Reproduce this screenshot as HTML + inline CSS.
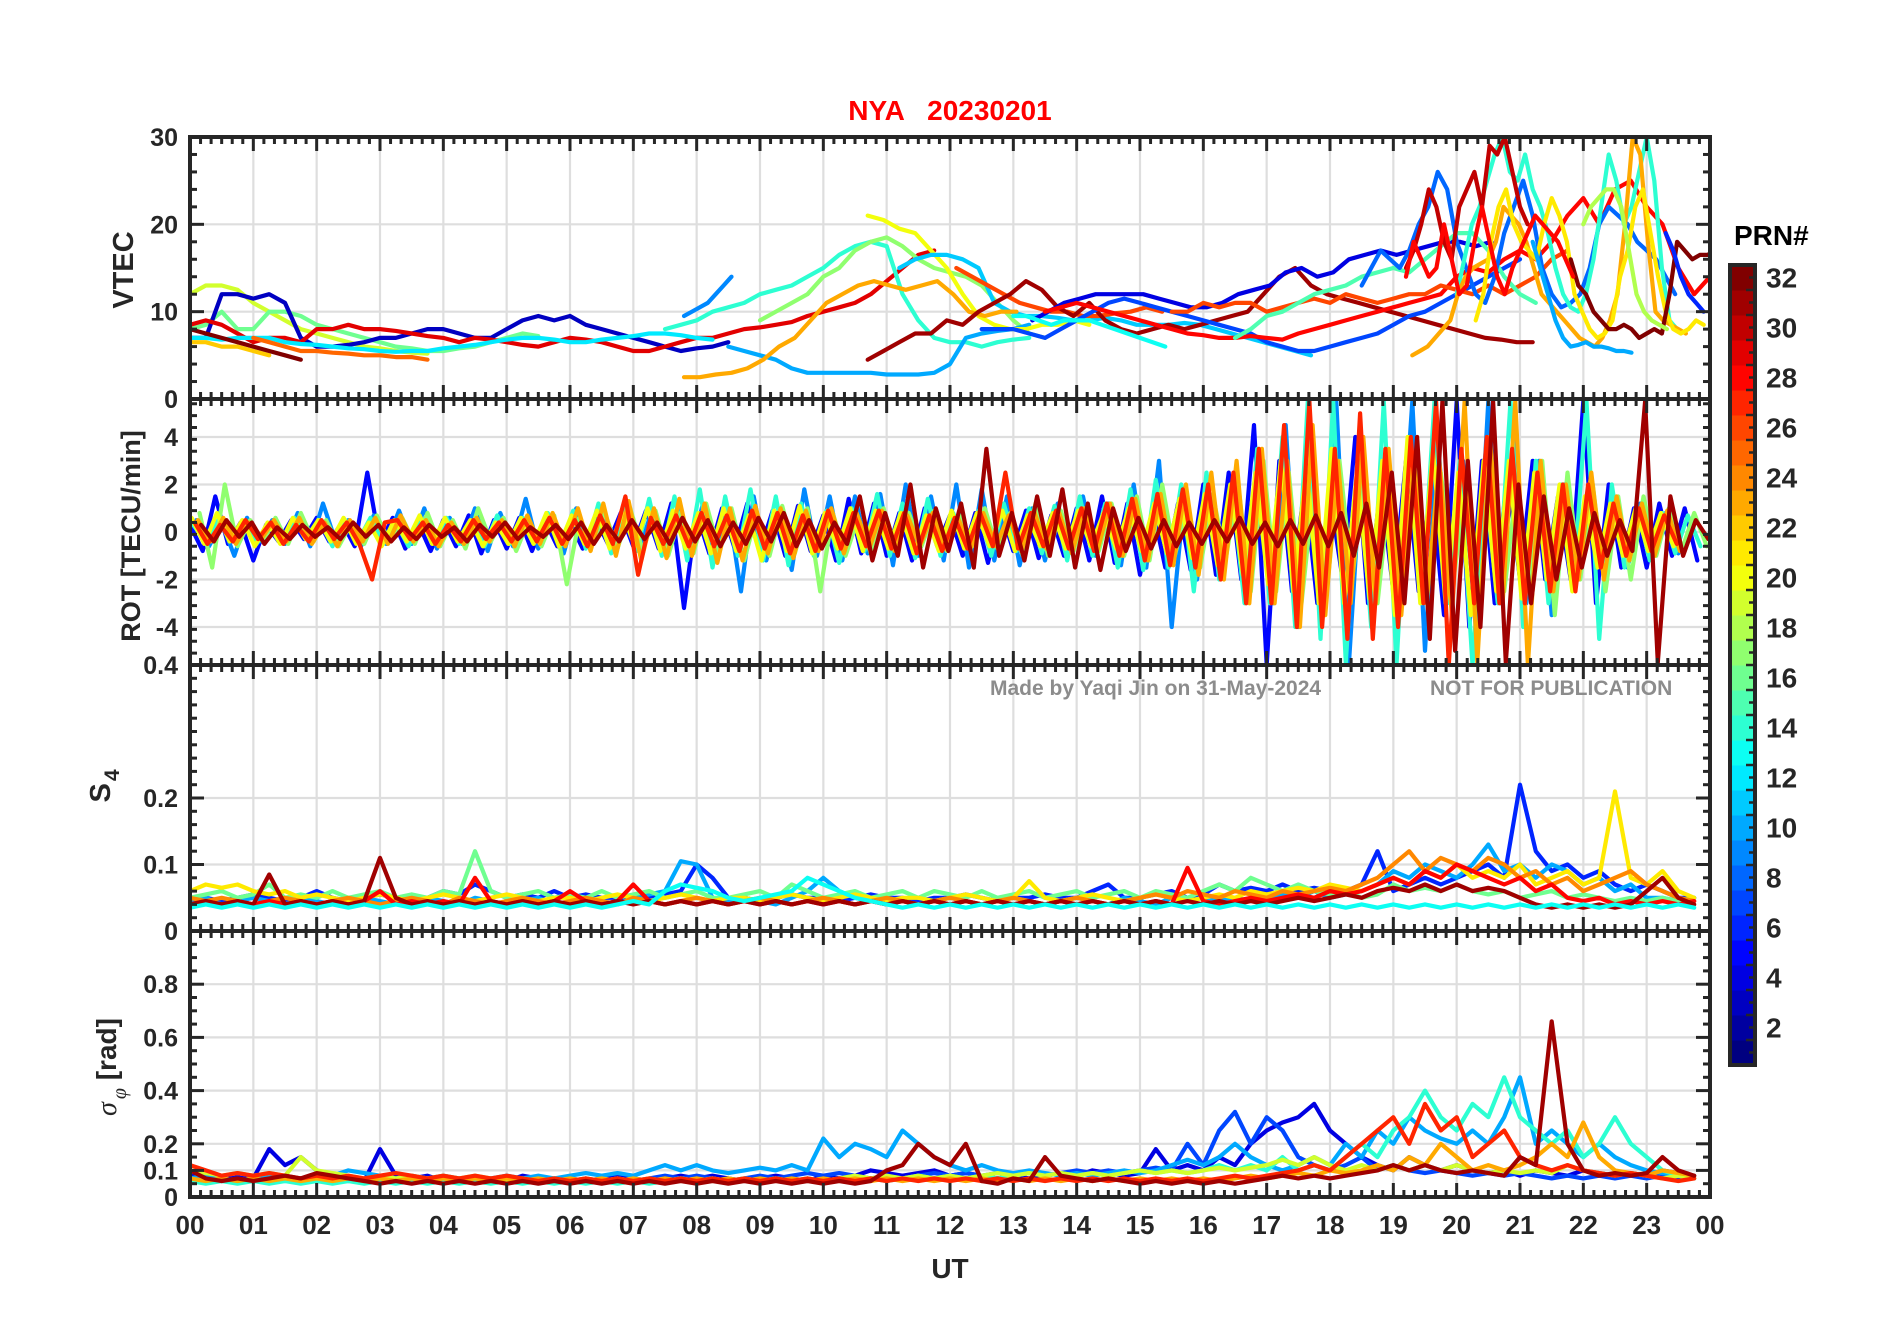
<!DOCTYPE html>
<html><head><meta charset="utf-8"><style>
html,body{margin:0;padding:0;background:#fff;}
svg text{font-family:"Liberation Sans",Arial,sans-serif;font-weight:bold;fill:#262626;}
</style></head><body>
<svg id="chart" width="1902" height="1330" viewBox="0 0 1902 1330" xmlns="http://www.w3.org/2000/svg">
<rect width="1902" height="1330" fill="#fff"/>
<text x="950" y="120" text-anchor="middle" font-size="28" style="fill:#ff0000" xml:space="preserve">NYA   20230201</text>
<g id="grids"></g><g id="series"></g><g id="axes"></g>
<text x="990" y="695" font-size="21" style="fill:#8c8c8c">Made by Yaqi Jin on 31-May-2024</text>
<text x="1430" y="695" font-size="21" style="fill:#8c8c8c">NOT FOR PUBLICATION</text>
<text x="950" y="1278" text-anchor="middle" font-size="28">UT</text>
<text transform="translate(133,270) rotate(-90)" text-anchor="middle" font-size="29">VTEC</text>
<text transform="translate(140,536) rotate(-90)" text-anchor="middle" font-size="27">ROT [TECU/min]</text>
<text transform="translate(110,786) rotate(-90)" text-anchor="middle" font-size="29">S<tspan font-size="21" dy="9" dx="2">4</tspan></text>
<text transform="translate(116,1067) rotate(-90)" text-anchor="middle" font-size="28"><tspan font-family="Liberation Serif" font-style="italic" font-weight="normal">σ</tspan><tspan font-family="Liberation Serif" font-style="italic" font-weight="normal" font-size="20" dy="10" dx="3">φ</tspan><tspan dy="-10"> [rad]</tspan></text>
<g id="colorbar"></g>
<text x="1734" y="245" font-size="28" style="fill:#000">PRN#</text>
</svg>
<script>
// ---------- data ----------
const hourLabels = ["00","01","02","03","04","05","06","07","08","09","10","11","12","13","14","15","16","17","18","19","20","21","22","23","00"];
const prnTicks = [2,4,6,8,10,12,14,16,18,20,22,24,26,28,30,32];
const vtecTicks = [0,10,20,30];
const rotTicks = [-4,-2,0,2,4];
const s4Ticks = [0,0.1,0.2,0.4];
const sigTicks = [0,0.1,0.2,0.4,0.6,0.8];

// VTEC tracks: prn, start hour, step hour, values
const vtecPrn   = [19,16,3,29,22,12,25,32,9,14,17,10,20,11,23,26,31,4,7,13,28,26,15,8,14,30,23,21,32,10,6,18,28];
const vtecStart = [0,0,0,0,0,0,1,0,7.8,7.5,9,8.5,10.7,11.2,7.8,12.1,10.7,13.3,12.5,13,13.5,15.5,16.5,18.5,20,19.2,19.3,20.3,21.8,21.2,23.3,22,19.2];
const vtecStep  = [0.25,0.25,0.25,0.25,0.25,0.25,0.25,0.25,0.125,0.25,0.25,0.25,0.25,0.25,0.25,0.25,0.25,0.25,0.25,0.2,0.25,0.25,0.25,0.15,0.12,0.12,0.12,0.12,0.12,0.12,0.12,0.12,0.12];
const vtecVals = [
 [12,13,13,12.5,11,10,9,8,7.5,7,6.5,6,5.8,5.5,5.3,5.2],
 [8,8.5,10,8,8,10,10,9.5,8.5,8,7.5,7,6.5,6,5.8,5.5,5.5,5.8,6,6.5,7,7.5,7.2],
 [7,7,12,12,11.5,12,11,7,6,6,6.2,6.5,7,7,7.5,8,8,7.5,7,7,8,9,9.5,9,9.5,8.5,8,7.5,7,6.5,6,5.5,5.8,6,6.5],
 [8.5,9,8.5,7.5,6.5,7,7,6.5,8,8,8.5,8,8,7.8,7.5,7.2,7,6.5,7,6.8,6.5,6.2,6,6.5,7,6.8,6.5,6,5.5,5.5,6,6.5,7,7,7.5,8,8.2,8.5,8.8,9.5,10,10.5,11,12,13.5,15,16.5,17],
 [6.5,6.5,6,6,5.5,5],
 [7,7,6.8,7,7,7,6.5,6.3,6.2,6,5.8,5.7,5.5,5.4,5.5,5.5,5.8,6,6.2,6.5,6.8,7,7,6.8,6.5,6.5,6.8,7,7.2,7.5,7.5,7.3,7,6.8],
 [7,6.5,6,5.5,5.5,5.3,5.2,5,5,4.8,4.8,4.5],
 [8,7.5,7,6.5,6,5.5,5,4.5],
 [9.5,10,10.5,11,12,13,14],
 [8,8.5,9,10,10.5,11,12,12.5,13,14,15,16.5,17.5,18,17.5,12,9,7,6.5,6.5,6,6.5,6.8,7],
 [9,10,11,12,14,15,17,18,18.5,17.5,16,15,14.5,14,13,11,9,7.5,7],
 [6,5.5,5,4.5,3.5,3,3,3,3,3,2.8,2.8,2.8,3,4,7,7.5,7.8,8,8.5],
 [21,20.5,19.5,19,17,15,12,9.5,8.5,8,8,8.5,8.5,9,8.5],
 [15,16,16.5,16.5,16,15,11,10,9.5,9.5,9.3,9,9,9.3,9,8.5,8.5,8.5,8.7,8.5,8,7.5,7,6.5,6,5.5,5],
 [2.5,2.5,2.8,3,3.5,4.5,6,7,9,11,12,13,13.5,13,12.5,13,13.5,12,10,9.5,10,10],
 [15,14,13,12,11,10.5,10,10,9.5,9.5,9.8,10,10.5,10],
 [4.5,5.5,6.5,7.5,7.5,9,8.5,10,11,12,13.5,12.5,10.5,9.5,11,9,8,7.5,8,8.5,8,8.5,9,9.5,10,12,14,15,13,12,11.5,11,10.5,10,9.5,9,8.5,8,7.5,7,6.8,6.5,6.5],
 [9,10,11,11.5,12,12,12,12,11.5,11,10.5,10.5,11,12,12.5,13,14.5,15,14,14.5,16,16.5,17,16.5,17,17.5,18,18,17.5,18],
 [8,8,8,7.5,7,8,9,10,11,11.5,11,10.5,10,9.5,9,8.5,8,7.5,6.5,6,5.5,5.5,6,6.5,7,7.5,8.5,9.5,10,11,12,13,14,15,16],
 [9.5,9.5,9,8.5,9,9,9,8.5,8,7.5,7,6.5,6],
 [10,10.5,11,10.5,10,9.5,9,8.5,8,7.5,7.3,7,7,7.2,7,6.8,7.5,8,8.5,9,9.5,10,10.5,11,11.5,12,14,15,14.5,16,17,16,18,21,23,20,24,25,22,20,15,12,14,17,18,20,19.5],
 [10,10,11,10.5,11,11,10,10.5,11,11.5,11,12,11.5,11,11.5,12,12,13,12.5,12,13,12,13,14,16,17],
 [7,8,9.5,10,11,12,12.5,13,14,14.5,15,14.5,16,17.5,19,19,17,14,12,11],
 [13,15,17,16,15,17,20,22,26,24,18,15,12,11,14,19,22,25,21,15,12,10.5,11,12,15,20,22,21,20,18,17,16,14,12],
 [12,16,20,22,25,28,30,26,25,28,24,22,19,15,12,10.5,10,12,16,22,28,25,20,22,26,30,25,15,9,8],
 [15,17,20,24,22,18,16,22,24,26,22,29,28,30,26,22,20],
 [5,5.5,6,7,8,9,12,14,15,15.5,16,18,22,21,20,18,15,12,11,10,9,8,7,6.5,6,7,9,12,20,30,28,18,10,9,8.5,8,7.5],
 [9,12,18,22,24,20,18,17,16,20,23,21,18,12,10,8,7,7.5,9,14,17,22,24,19,14,10,8,7.5,8,9,8.5],
 [16,13,12,10,9,8,8,8.5,8,7,7.5,8,7.5,12,18,17,16,16.5,16.5,17,12,10,8,7,6.5],
 [18,15,12,9,7,6,6.2,6.5,6,6,5.8,5.5,5.5,5.3],
 [19,17,14,12,11,10],
 [20,22,23,24,24,22,17,12,10,9,8.5,8],
 [14,18,16,14,15,20,16,12,13,18,22,18,14,12,15,17,19,21,20,19,18,16,14]
];

// ROT tracks (step 0.2 h)
const rotPrn = [5,9,14,17,20,23,27,31];
const rotStart = [0,0.1,0.05,0.15,0.025,0.125,0.075,0.175];
const rotVals = [
 [0.3,-0.8,1.5,-0.5,0.4,-1.2,0.3,-0.4,0.5,-0.3,0.6,-0.4,0.4,-0.6,2.5,-0.5,0.6,-0.7,0.4,-0.8,0.5,-0.6,0.7,-0.9,0.5,-0.7,0.6,-0.8,0.5,-0.6,0.4,-0.7,0.6,-0.5,0.8,-0.6,0.9,-0.7,1.2,-3.2,0.8,-0.9,1.0,-0.7,1.2,-0.8,0.9,-1.0,1.1,-0.8,0.7,-1.2,1.4,-0.9,1.2,-1.0,0.8,-1.2,1.0,-0.6,0.7,-1.0,0.8,-1.3,1.0,-0.8,0.9,-1.1,0.7,-1.0,1.0,-1.2,1.5,-1.3,1.2,-1.8,1.0,-1.5,1.2,-1.6,2.0,-1.8,2.5,-2.0,4.5,-5.6,3,-2.5,2,-3,1.5,-2,4,-3,2,-2.5,3,-2.5,2,-3.5,5.5,-4,3,-3,2.5,-2,3,-2,1.5,-2,5.5,-3,2,-1.5,1,-1.5,1.2,-1,1,-1.2],
 [0.5,-0.6,0.4,-1.0,0.6,-0.4,0.5,-0.5,0.8,-0.6,1.2,-0.4,0.5,-0.6,0.7,-0.5,0.9,-0.5,1.0,-0.7,0.6,-0.5,1.0,-0.8,0.8,-0.6,1.4,-0.7,0.6,-0.9,1.0,-0.6,0.8,-0.7,1.3,-0.8,1.0,-0.6,1.0,-0.9,1.2,-0.8,1.0,-2.5,1.5,-1.2,1.0,-1.6,1.8,-1.0,1.5,-1.2,1.5,-0.9,1.6,-1.4,2.0,-1.0,1.5,-1.2,2.0,-1.5,1.8,-1.2,1.5,-1.4,1.0,-1.2,1.2,-0.8,1.5,-1.0,1.2,-1.4,2.0,-1.5,3,-4,1.5,-2.0,1.5,-1.8,2,-2.5,3,-3,4.5,-4,3,-3.5,5.5,-5.5,3,-3,2,-2.5,5.5,-5,4,-3,3,-4,5.5,-3,4,-3,3,-3.5,2,-2,1.5,-1.2,1,-1.5,1.2,-1,0.8,-0.9],
 [0.3,-0.4,0.5,-0.3,0.4,-0.5,0.3,-0.4,0.6,-0.3,0.5,-0.6,0.5,-0.4,0.6,-0.5,0.4,-0.6,0.5,-0.4,0.6,-0.5,0.4,-0.6,0.7,-0.5,0.6,-0.4,0.8,-0.6,0.9,-0.7,1.2,-0.9,1.0,-0.8,1.4,-1.0,1.5,-1.2,1.8,-1.5,1.5,-1.0,1.8,-1.2,1.5,-1.4,1.2,-1.0,0.9,-1.3,1.0,-0.8,1.6,-1.0,1.2,-1.1,1.4,-1.0,0.8,-0.7,0.9,-1.0,1.2,-0.8,1.0,-0.9,1.1,-1.2,1.5,-1.0,1.2,-1.5,1.8,-1.6,2.2,-1.5,2,-2.5,2.5,-2,2,-3,3.5,-3,4,-4,5.5,-4.5,5.5,-5.5,3,-4,5.5,-5.6,4,-3,5.5,-3,3,-5.6,2,-3,5.5,-4,3,-3,2,-2,5.5,-4.5,2,-1.5,1,-1.2,0.8,-0.9,0.7,-0.6],
 [0.8,-1.5,2.0,-0.6,0.5,-0.4,0.6,-0.5,0.8,-0.4,0.5,-0.6,0.4,-0.5,0.7,-0.4,0.6,-0.5,0.8,-0.6,0.5,-0.7,1.0,-0.4,0.6,-0.8,0.5,-0.6,0.7,-2.2,0.6,-0.5,0.8,-0.7,1.0,-0.8,0.9,-1.0,0.8,-0.9,1.2,-0.8,1.0,-1.2,0.8,-1.0,1.1,-0.9,1.0,-2.5,0.8,-1.0,0.6,-0.9,1.0,-0.7,0.8,-0.6,0.9,-0.8,0.7,-0.6,1.0,-0.7,0.8,-1.0,1.2,-1.0,0.9,-0.8,1.0,-0.8,1.2,-1.0,1.5,-1.2,2.0,-1.0,1.2,-1.5,1.6,-1.2,2.0,-2.5,3,-2.5,2.5,-3,2,-2.5,3,-2,2.5,-3,2,-2.5,3,-2,2.5,-2,2,-3,3,-2.5,2,-2,3,-3.5,2.5,-2,2,-2.5,1.5,-2,1.5,-1,1,-0.8,0.8,-0.6],
 [0.6,-0.5,0.8,-0.4,0.5,-0.6,0.4,-0.5,0.6,-0.3,0.5,-0.4,0.6,-0.5,0.4,-0.6,0.5,-0.4,0.7,-0.5,0.6,-0.4,0.5,-0.6,0.4,-0.5,0.6,-0.5,0.8,-0.6,0.7,-0.5,0.9,-0.7,0.8,-0.6,1.0,-0.8,0.9,-0.7,0.8,-0.9,1.0,-0.8,0.7,-1.2,0.9,-0.8,1.1,-0.9,0.8,-0.7,1.0,-0.8,0.9,-0.7,0.8,-0.9,0.7,-0.8,0.9,-0.7,0.8,-0.6,0.9,-0.8,0.7,-0.6,0.8,-0.7,0.9,-0.6,0.8,-0.7,1.0,-0.8,1.2,-0.9,1.4,-1.1,1.6,-1.4,2.0,-1.8,2.5,-2.2,3,-2.5,2.8,-3,3.5,-3,2.5,-2.8,3,-3.5,4,-3,3.5,-3,2.5,-3.5,3,-2.5,3,-2.8,2.5,-2,2,-2.5,1.5,-1.5,1.2,-1,1,-0.8,0.8,-0.6],
 [0.5,-0.4,0.6,-0.5,0.4,-0.3,0.5,-0.4,0.6,-0.5,0.4,-0.6,0.5,-0.4,0.6,-0.5,0.7,-0.4,0.5,-0.6,0.4,-0.5,0.6,-0.4,0.5,-0.6,0.7,-0.5,0.8,-0.6,1.0,-0.8,1.2,-1.0,1.3,-1.2,1.0,-1.1,1.4,-1.0,1.2,-1.3,1.0,-1.2,1.1,-0.9,1.0,-1.1,0.9,-0.8,1.0,-0.9,0.8,-0.7,0.9,-0.8,0.7,-0.6,0.8,-0.7,0.6,-0.7,0.8,-0.6,0.7,-0.8,0.9,-0.7,0.8,-0.9,1.0,-0.8,1.2,-1.0,1.4,-1.2,1.6,-1.4,2.0,-1.8,2.5,-2,3,-3,3.5,-3,3,-4,4.5,-3.5,3,-3,4,-3,3.5,-3.5,3,-3,3,-3.5,5.5,-5.5,4,-3,5.5,-5.6,3,-2.5,2,-2,2.5,-2,1.5,-1.2,1.2,-1,0.9,-0.8],
 [0.4,-0.5,0.3,-0.4,0.5,-0.3,0.4,-0.5,0.3,-0.4,0.5,-0.3,0.4,-0.5,-2,0.4,0.5,-0.3,0.4,-0.5,0.3,-0.4,0.5,-0.3,0.4,-0.4,0.5,-0.4,0.6,-0.5,0.5,-0.6,0.7,-0.5,1.5,-1.8,0.6,-0.5,0.7,-0.6,0.8,-0.6,0.7,-0.8,0.9,-0.7,0.8,-0.9,0.7,-0.8,0.9,-0.7,0.8,-0.6,0.9,-0.7,0.8,-0.9,0.7,-0.8,0.6,-0.7,0.8,-0.6,2.5,-0.7,0.8,-0.6,0.9,-0.7,1.0,-0.8,1.2,-1.0,1.4,-1.2,1.6,-1.4,1.8,-1.5,2,-2,2.5,-3,3.5,-3,4.5,-4,5.5,-4,3.5,-4.5,5,-4.5,3.5,-4,4,-3,5.5,-5.6,3.5,-3,4,-3,3.5,-3,2.5,-2.5,2,-2.5,2,-1.5,1.2,-1,1,-0.8,0.7,-0.5],
 [0.3,-0.4,0.5,-0.2,0.4,-0.5,0.2,-0.3,0.3,-0.2,0.2,-0.3,0.4,-0.2,0.3,-0.4,0.2,-0.3,0.3,-0.2,0.2,-0.4,0.3,-0.2,0.4,-0.3,0.2,-0.2,0.3,-0.3,0.4,-0.5,0.3,-0.4,0.5,-0.3,0.4,-0.5,0.6,-0.4,0.5,-0.6,0.4,-0.5,0.6,-0.4,0.8,-0.6,0.5,-0.7,0.4,-0.5,1.5,-1.2,0.8,-1.0,2.0,-1.5,1.0,-0.8,1.2,-1.5,3.5,-1.0,0.8,-1.2,1.5,-1.0,1.8,-1.5,1.2,-1.6,1.0,-0.8,0.6,-0.7,0.5,-0.6,0.4,-0.5,0.5,-0.4,0.6,-0.5,0.4,-0.6,0.5,-0.5,0.7,-0.6,0.8,-1.0,1.2,-1.5,2.5,-3,4,-4.5,5.5,-5,3,-4,5.5,-5.5,2,-3,1.5,-2,1,-1.5,0.8,-1,0.5,-0.8,5.5,-5.5,1.5,-1,0.5,-0.3,0.8,-0.6,0.5,-0.4]
];

// S4 tracks (step 0.25 h)
const s4Prn = [6,10,16,21,24,28,31,13];
const s4Vals = [
 [0.05,0.05,0.045,0.05,0.055,0.05,0.045,0.05,0.06,0.05,0.045,0.05,0.055,0.05,0.045,0.05,0.06,0.055,0.07,0.06,0.05,0.055,0.05,0.06,0.05,0.055,0.05,0.05,0.045,0.05,0.055,0.06,0.1,0.08,0.05,0.05,0.045,0.05,0.055,0.05,0.05,0.045,0.05,0.055,0.05,0.05,0.045,0.05,0.05,0.055,0.05,0.045,0.05,0.05,0.055,0.05,0.05,0.06,0.07,0.05,0.05,0.055,0.06,0.05,0.055,0.07,0.06,0.065,0.06,0.07,0.06,0.065,0.06,0.06,0.07,0.12,0.06,0.07,0.08,0.07,0.08,0.09,0.1,0.08,0.22,0.12,0.09,0.1,0.08,0.09,0.07,0.06,0.07,0.06,0.05,0.05],
 [0.045,0.05,0.04,0.045,0.05,0.045,0.04,0.05,0.045,0.04,0.045,0.05,0.045,0.04,0.045,0.05,0.045,0.04,0.05,0.045,0.04,0.045,0.05,0.04,0.045,0.05,0.045,0.04,0.05,0.055,0.06,0.105,0.1,0.05,0.045,0.05,0.045,0.04,0.05,0.06,0.08,0.06,0.05,0.045,0.05,0.045,0.04,0.045,0.05,0.045,0.04,0.045,0.05,0.045,0.04,0.045,0.05,0.045,0.04,0.05,0.045,0.04,0.05,0.045,0.05,0.045,0.05,0.045,0.05,0.055,0.05,0.06,0.05,0.055,0.06,0.07,0.09,0.08,0.1,0.09,0.08,0.1,0.13,0.09,0.1,0.08,0.1,0.09,0.07,0.08,0.06,0.07,0.05,0.05,0.045,0.05],
 [0.05,0.055,0.06,0.05,0.055,0.07,0.05,0.055,0.05,0.06,0.05,0.055,0.06,0.05,0.055,0.05,0.06,0.055,0.12,0.06,0.05,0.055,0.06,0.05,0.055,0.05,0.06,0.05,0.055,0.06,0.05,0.055,0.06,0.05,0.05,0.055,0.06,0.05,0.07,0.06,0.05,0.055,0.06,0.05,0.055,0.06,0.05,0.06,0.055,0.05,0.06,0.05,0.055,0.06,0.05,0.055,0.06,0.05,0.055,0.06,0.05,0.06,0.055,0.05,0.06,0.07,0.06,0.08,0.07,0.06,0.07,0.06,0.055,0.06,0.05,0.055,0.07,0.06,0.065,0.06,0.07,0.06,0.055,0.06,0.05,0.055,0.06,0.05,0.055,0.05,0.045,0.05,0.045,0.05,0.045,0.05],
 [0.06,0.07,0.065,0.07,0.06,0.055,0.06,0.05,0.055,0.05,0.045,0.05,0.055,0.05,0.045,0.05,0.055,0.05,0.045,0.05,0.055,0.05,0.045,0.05,0.05,0.045,0.05,0.055,0.05,0.045,0.05,0.055,0.05,0.045,0.05,0.05,0.045,0.05,0.055,0.05,0.045,0.05,0.055,0.05,0.045,0.05,0.05,0.045,0.05,0.055,0.05,0.045,0.05,0.075,0.05,0.045,0.05,0.055,0.05,0.045,0.05,0.055,0.05,0.045,0.05,0.055,0.05,0.06,0.055,0.06,0.065,0.06,0.07,0.065,0.06,0.07,0.08,0.07,0.09,0.08,0.1,0.08,0.09,0.08,0.1,0.07,0.08,0.09,0.07,0.08,0.21,0.08,0.07,0.09,0.06,0.05],
 [0.05,0.045,0.05,0.045,0.04,0.045,0.05,0.045,0.04,0.045,0.05,0.045,0.04,0.045,0.05,0.045,0.04,0.05,0.045,0.04,0.045,0.05,0.045,0.04,0.045,0.05,0.045,0.04,0.05,0.045,0.04,0.045,0.05,0.045,0.04,0.045,0.05,0.045,0.04,0.045,0.05,0.045,0.04,0.045,0.05,0.045,0.04,0.045,0.05,0.045,0.04,0.045,0.05,0.045,0.04,0.045,0.05,0.045,0.04,0.045,0.05,0.055,0.05,0.06,0.055,0.05,0.06,0.055,0.05,0.06,0.055,0.06,0.065,0.06,0.07,0.08,0.1,0.12,0.09,0.11,0.1,0.09,0.11,0.1,0.08,0.09,0.07,0.08,0.06,0.07,0.08,0.09,0.07,0.06,0.05,0.045],
 [0.04,0.045,0.04,0.045,0.04,0.045,0.04,0.045,0.04,0.045,0.04,0.045,0.06,0.04,0.045,0.04,0.045,0.04,0.08,0.045,0.04,0.045,0.04,0.045,0.06,0.045,0.04,0.045,0.07,0.045,0.04,0.045,0.04,0.045,0.04,0.045,0.04,0.045,0.04,0.045,0.04,0.045,0.04,0.045,0.04,0.045,0.04,0.045,0.04,0.045,0.04,0.045,0.04,0.045,0.04,0.045,0.04,0.045,0.04,0.045,0.04,0.045,0.04,0.095,0.045,0.04,0.045,0.05,0.045,0.05,0.055,0.05,0.06,0.055,0.06,0.07,0.08,0.07,0.09,0.08,0.1,0.09,0.08,0.07,0.08,0.06,0.07,0.05,0.045,0.05,0.04,0.045,0.04,0.045,0.04,0.045],
 [0.04,0.045,0.04,0.045,0.04,0.085,0.04,0.045,0.04,0.045,0.04,0.045,0.11,0.05,0.04,0.045,0.04,0.045,0.04,0.045,0.04,0.045,0.04,0.045,0.04,0.045,0.04,0.045,0.04,0.045,0.04,0.045,0.04,0.045,0.04,0.045,0.04,0.045,0.04,0.045,0.04,0.045,0.04,0.045,0.04,0.045,0.04,0.045,0.04,0.045,0.04,0.045,0.04,0.045,0.04,0.045,0.04,0.045,0.04,0.045,0.04,0.045,0.04,0.045,0.04,0.045,0.04,0.045,0.04,0.045,0.05,0.045,0.05,0.055,0.05,0.06,0.065,0.06,0.07,0.06,0.07,0.06,0.065,0.06,0.05,0.04,0.035,0.04,0.035,0.04,0.035,0.04,0.06,0.08,0.05,0.04],
 [0.035,0.04,0.035,0.04,0.035,0.04,0.035,0.04,0.035,0.04,0.035,0.04,0.035,0.04,0.035,0.04,0.035,0.04,0.035,0.04,0.035,0.04,0.035,0.04,0.035,0.04,0.035,0.04,0.045,0.04,0.06,0.07,0.065,0.06,0.05,0.045,0.05,0.055,0.06,0.08,0.07,0.06,0.05,0.045,0.04,0.035,0.04,0.035,0.04,0.035,0.04,0.035,0.04,0.035,0.04,0.035,0.04,0.035,0.04,0.035,0.04,0.035,0.04,0.035,0.04,0.035,0.04,0.035,0.04,0.035,0.04,0.035,0.04,0.035,0.04,0.035,0.04,0.035,0.04,0.035,0.04,0.035,0.04,0.035,0.04,0.035,0.04,0.035,0.04,0.035,0.04,0.035,0.04,0.035,0.04,0.035]
];

// sigma-phi tracks (step 0.25 h)
const sigPrn = [4,7,10,14,19,23,27,31];
const sigVals = [
 [0.08,0.07,0.06,0.08,0.07,0.18,0.12,0.15,0.1,0.08,0.07,0.06,0.18,0.08,0.07,0.08,0.06,0.07,0.06,0.07,0.06,0.08,0.07,0.06,0.07,0.06,0.07,0.08,0.07,0.06,0.07,0.08,0.07,0.08,0.07,0.06,0.07,0.08,0.07,0.06,0.08,0.07,0.08,0.1,0.09,0.08,0.09,0.1,0.08,0.09,0.08,0.07,0.08,0.07,0.08,0.09,0.08,0.1,0.09,0.08,0.09,0.18,0.1,0.12,0.1,0.15,0.12,0.2,0.25,0.28,0.3,0.35,0.25,0.2,0.15,0.12,0.1,0.15,0.12,0.1,0.12,0.1,0.09,0.1,0.08,0.1,0.09,0.08,0.1,0.09,0.08,0.09,0.08,0.1,0.09,0.08],
 [0.06,0.07,0.06,0.07,0.06,0.07,0.06,0.07,0.06,0.07,0.06,0.07,0.06,0.07,0.06,0.07,0.06,0.07,0.06,0.07,0.06,0.07,0.06,0.07,0.06,0.07,0.06,0.07,0.06,0.07,0.08,0.07,0.08,0.07,0.06,0.07,0.08,0.07,0.08,0.09,0.08,0.09,0.08,0.07,0.08,0.07,0.08,0.09,0.08,0.09,0.08,0.09,0.08,0.09,0.08,0.09,0.1,0.09,0.1,0.09,0.1,0.11,0.1,0.2,0.12,0.25,0.32,0.2,0.3,0.25,0.15,0.12,0.1,0.12,0.15,0.1,0.12,0.1,0.09,0.1,0.09,0.08,0.09,0.08,0.09,0.08,0.07,0.08,0.07,0.08,0.07,0.08,0.07,0.08,0.07,0.08],
 [0.07,0.08,0.07,0.06,0.07,0.08,0.07,0.06,0.07,0.08,0.1,0.09,0.08,0.07,0.08,0.07,0.08,0.07,0.06,0.07,0.08,0.07,0.08,0.07,0.08,0.09,0.08,0.09,0.08,0.1,0.12,0.1,0.12,0.1,0.09,0.1,0.11,0.1,0.12,0.1,0.22,0.15,0.2,0.18,0.15,0.25,0.2,0.15,0.12,0.1,0.12,0.1,0.09,0.1,0.09,0.08,0.09,0.08,0.09,0.1,0.09,0.1,0.12,0.14,0.12,0.15,0.2,0.15,0.12,0.1,0.12,0.15,0.12,0.2,0.15,0.25,0.2,0.3,0.25,0.22,0.2,0.25,0.2,0.3,0.45,0.2,0.25,0.2,0.15,0.2,0.15,0.12,0.1,0.09,0.08,0.07],
 [0.06,0.05,0.06,0.05,0.06,0.05,0.06,0.05,0.06,0.05,0.06,0.05,0.06,0.05,0.06,0.05,0.06,0.05,0.06,0.05,0.06,0.05,0.06,0.05,0.06,0.05,0.06,0.05,0.06,0.05,0.06,0.07,0.06,0.07,0.06,0.07,0.06,0.07,0.06,0.07,0.06,0.07,0.06,0.07,0.06,0.07,0.08,0.07,0.08,0.07,0.08,0.07,0.08,0.09,0.08,0.09,0.08,0.09,0.08,0.09,0.1,0.09,0.1,0.09,0.1,0.12,0.1,0.12,0.1,0.15,0.1,0.12,0.1,0.15,0.2,0.15,0.25,0.3,0.4,0.3,0.25,0.35,0.3,0.45,0.3,0.25,0.2,0.25,0.15,0.2,0.3,0.2,0.15,0.1,0.08,0.07],
 [0.1,0.09,0.08,0.09,0.08,0.09,0.08,0.15,0.1,0.09,0.08,0.07,0.08,0.07,0.08,0.07,0.08,0.07,0.08,0.07,0.06,0.07,0.06,0.07,0.06,0.07,0.06,0.07,0.06,0.07,0.06,0.07,0.06,0.07,0.06,0.07,0.06,0.07,0.06,0.07,0.06,0.07,0.08,0.07,0.08,0.07,0.08,0.07,0.08,0.07,0.08,0.09,0.08,0.09,0.08,0.09,0.08,0.09,0.08,0.09,0.1,0.09,0.1,0.09,0.1,0.11,0.1,0.11,0.12,0.14,0.12,0.15,0.12,0.1,0.12,0.1,0.12,0.1,0.12,0.1,0.12,0.1,0.09,0.1,0.09,0.1,0.09,0.12,0.1,0.09,0.08,0.09,0.08,0.07,0.08,0.07],
 [0.07,0.06,0.07,0.06,0.07,0.06,0.07,0.06,0.07,0.06,0.07,0.06,0.07,0.06,0.07,0.06,0.07,0.06,0.07,0.06,0.07,0.06,0.07,0.06,0.07,0.06,0.07,0.06,0.07,0.06,0.07,0.06,0.07,0.06,0.07,0.06,0.07,0.06,0.07,0.06,0.07,0.06,0.07,0.06,0.07,0.06,0.07,0.06,0.07,0.06,0.07,0.06,0.07,0.06,0.07,0.06,0.07,0.06,0.07,0.06,0.07,0.06,0.07,0.06,0.07,0.06,0.07,0.08,0.07,0.08,0.09,0.08,0.1,0.09,0.1,0.12,0.1,0.15,0.12,0.2,0.15,0.1,0.12,0.1,0.12,0.15,0.2,0.15,0.28,0.15,0.1,0.09,0.08,0.1,0.09,0.08],
 [0.12,0.1,0.08,0.09,0.08,0.09,0.08,0.07,0.08,0.07,0.08,0.07,0.08,0.09,0.08,0.07,0.08,0.07,0.08,0.07,0.08,0.07,0.06,0.07,0.06,0.07,0.06,0.07,0.06,0.07,0.06,0.07,0.06,0.07,0.06,0.07,0.06,0.07,0.06,0.07,0.06,0.07,0.06,0.07,0.06,0.07,0.06,0.07,0.06,0.07,0.06,0.07,0.06,0.07,0.06,0.07,0.06,0.07,0.06,0.07,0.06,0.07,0.06,0.07,0.06,0.07,0.08,0.07,0.08,0.09,0.1,0.12,0.1,0.15,0.2,0.25,0.3,0.2,0.35,0.25,0.3,0.15,0.2,0.25,0.15,0.12,0.1,0.12,0.1,0.09,0.08,0.09,0.08,0.07,0.06,0.07],
 [0.1,0.07,0.06,0.07,0.06,0.07,0.08,0.07,0.09,0.08,0.07,0.06,0.05,0.06,0.05,0.06,0.05,0.06,0.05,0.06,0.05,0.06,0.05,0.06,0.05,0.06,0.05,0.06,0.05,0.06,0.05,0.06,0.05,0.06,0.05,0.06,0.05,0.06,0.05,0.06,0.05,0.06,0.05,0.06,0.1,0.12,0.2,0.15,0.12,0.2,0.06,0.05,0.07,0.06,0.15,0.08,0.07,0.06,0.07,0.06,0.05,0.06,0.05,0.06,0.05,0.06,0.05,0.06,0.07,0.08,0.07,0.08,0.07,0.08,0.09,0.1,0.12,0.1,0.12,0.1,0.09,0.1,0.09,0.08,0.15,0.12,0.66,0.2,0.1,0.08,0.09,0.08,0.09,0.15,0.1,0.08]
];

// ---------- layout ----------
const NS = "http://www.w3.org/2000/svg";
const X0 = 190, X1 = 1710;
const panels = [
 {name:"vtec", top:137, h:262, min:0, max:30, ticks:vtecTicks, minor:2},
 {name:"rot", top:399, h:266, min:-5.6, max:5.6, ticks:rotTicks, minor:0.5},
 {name:"s4", top:665, h:266, min:0, max:0.4, ticks:s4Ticks, minor:0.02},
 {name:"sigma", top:931, h:266, min:0, max:1, ticks:sigTicks, minor:0.05}
];
function xs(h){ return X0 + h*(X1-X0)/24; }
function ys(p,v){ return p.top+p.h - (v-p.min)/(p.max-p.min)*p.h; }
function jet(prn){
  const t=(prn-1)/31;
  const c=v=>Math.round(255*Math.max(0,Math.min(1,v)));
  return "rgb("+c(1.5-Math.abs(4*t-3))+","+c(1.5-Math.abs(4*t-2))+","+c(1.5-Math.abs(4*t-1))+")";
}
function mk(tag, attrs, parent){
  const e=document.createElementNS(NS,tag);
  for(const k in attrs) e.setAttribute(k, attrs[k]);
  parent.appendChild(e); return e;
}
const grids=document.getElementById("grids"), series=document.getElementById("series"), axes=document.getElementById("axes");
const defs=mk("defs",{},document.getElementById("chart"));

panels.forEach((p,pi)=>{
  const cp=mk("clipPath",{id:"clip"+pi},defs);
  mk("rect",{x:X0,y:p.top,width:X1-X0,height:p.h},cp);
  for(let h=1;h<24;h++){
    const g=mk("line",{x1:xs(h),x2:xs(h),y1:p.top,y2:p.top+p.h,stroke:"#dedede","stroke-width":2.2},grids);
    
    
  }
  p.ticks.forEach(v=>{
    if(v===p.min||Math.abs(v-p.max)<1e-9) return;
    const g=mk("line",{x1:X0,x2:X1,y1:ys(p,v),y2:ys(p,v),stroke:"#dedede","stroke-width":2.2},grids);
    
    
  });
  for(let m=0;m<=144;m++){
    const x=xs(m/6), L=(m%6===0)?14:7;
    mk("line",{x1:x,x2:x,y1:p.top,y2:p.top+L,stroke:"#262626","stroke-width":3},axes);
    mk("line",{x1:x,x2:x,y1:p.top+p.h,y2:p.top+p.h-L,stroke:"#262626","stroke-width":3},axes);
  }
  const nMin=Math.round((p.max-p.min)/p.minor);
  for(let k=0;k<=nMin;k++){
    const v=p.min+k*p.minor, y=ys(p,v);
    const major=p.ticks.some(t=>Math.abs(t-v)<1e-6);
    const L=major?14:7;
    mk("line",{x1:X0,x2:X0+L,y1:y,y2:y,stroke:"#262626","stroke-width":3},axes);
    mk("line",{x1:X1,x2:X1-L,y1:y,y2:y,stroke:"#262626","stroke-width":3},axes);
  }
  p.ticks.forEach(v=>{
    const t=mk("text",{x:178,y:ys(p,v)+9,"text-anchor":"end","font-size":25},axes);
    t.textContent=String(v);
    
    
  });
  const r=mk("rect",{x:X0,y:p.top,width:X1-X0,height:p.h,fill:"none",stroke:"#262626","stroke-width":4},axes);
  
  
});
hourLabels.forEach((lab,i)=>{
  const t=mk("text",{x:xs(i),y:1234,"text-anchor":"middle","font-size":26},axes);
  t.textContent=lab;
  
  
});

function drawTrack(pi, prn, start, step, vals, width){
  const p=panels[pi];
  const pts=vals.map((v,i)=>xs(start+i*step).toFixed(1)+","+ys(p,v).toFixed(1)).join(" ");
  const g=mk("g",{"clip-path":"url(#clip"+pi+")"},series);
  const pl=mk("polyline",{points:pts,fill:"none",stroke:jet(prn),"stroke-width":width,"stroke-linejoin":"round","stroke-linecap":"round"},g);
  
  
}
vtecVals.forEach((v,i)=>drawTrack(0,vtecPrn[i],vtecStart[i],vtecStep[i],v,4.2));
rotVals.forEach((v,i)=>drawTrack(1,rotPrn[i],rotStart[i],0.2,v,4.2));
s4Vals.forEach((v,i)=>drawTrack(2,s4Prn[i],0,0.25,v,4.2));
sigVals.forEach((v,i)=>drawTrack(3,sigPrn[i],0,0.25,v,4.2));

// colorbar
const cb=document.getElementById("colorbar");
const CBX=1730, CBW=25, CBT=265, CBB=1065;
function cy(v){ return CBB-(v-0.5)/32*(CBB-CBT); }
for(let k=1;k<=32;k++){
  const seg=mk("rect",{x:CBX,y:cy(k+0.5),width:CBW,height:cy(k-0.5)-cy(k+0.5)+0.5,fill:jet(k)},cb);
  
  
}
for(let k=1;k<=64;k++){
  const v=0.5+k*0.5, y=cy(v);
  mk("line",{x1:CBX+CBW,x2:CBX+CBW-(k%2===0?9:6),y1:y,y2:y,stroke:"#262626","stroke-width":2.5},cb);
}
mk("rect",{x:CBX,y:CBT,width:CBW,height:CBB-CBT,fill:"none",stroke:"#262626","stroke-width":4},cb);
prnTicks.forEach(v=>{
  const t=mk("text",{x:1766,y:cy(v)+10,"font-size":28},cb);
  t.textContent=String(v);
  
  
});
</script>
</body></html>
